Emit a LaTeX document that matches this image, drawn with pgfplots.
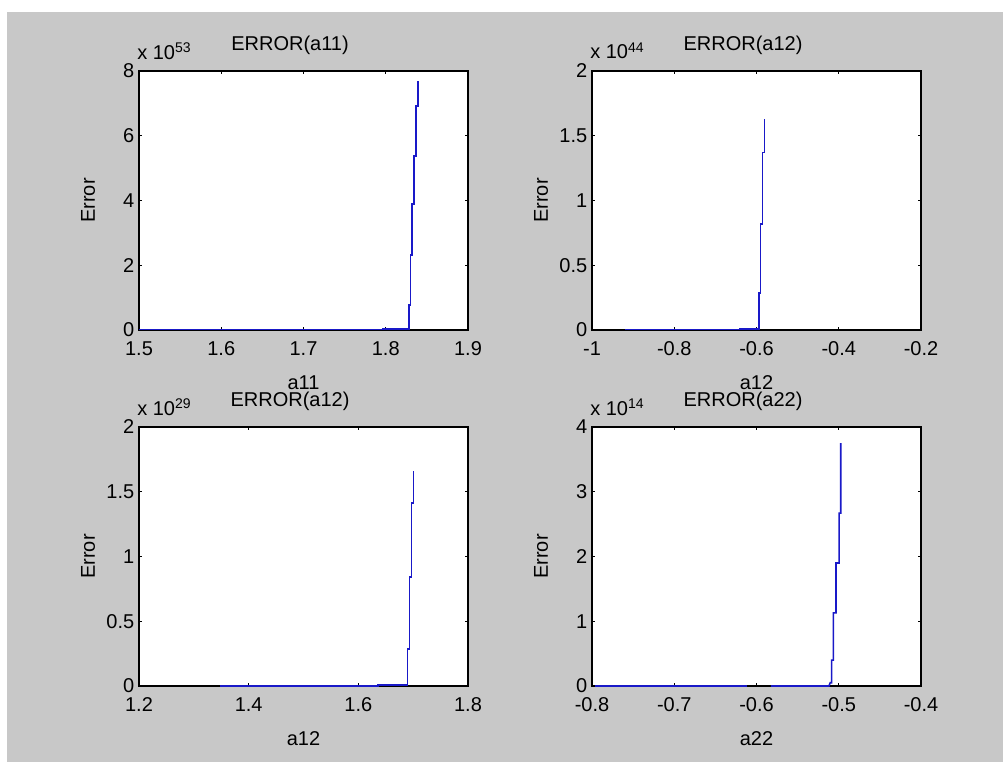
\documentclass[border=0pt]{standalone}
\usepackage{fontspec}
\setmainfont{Liberation Sans}
\usepackage{pgfplots}
\pgfplotsset{compat=1.18}
\definecolor{figgray}{RGB}{200,200,200}
\definecolor{mblue}{RGB}{25,25,200}
\newcommand\mfont{\fontsize{15}{18}\selectfont}

\pgfplotsset{
  mline/.style={mblue, line width=1.2pt, mark=none},
  mplot/.style={
    scale only axis, width=246.75pt, height=194.25pt,
    anchor=south west,
    axis background/.style={fill=white},
    axis line style={line width=0.8pt},
    tick style={black, line width=0.6pt},
    major tick length=2.5pt,
    tick align=inside, xtick pos=both, ytick pos=both,
    scaled x ticks=false,
    /pgf/number format/assume math mode=true,
    tick label style={font=\mfont},
    label style={font=\mfont},
    title style={font=\mfont, at={(axis description cs:0.459,1.069)},
      anchor=center, yshift=0pt},
    xlabel style={at={(axis description cs:0.5,-0.205)}, anchor=center},
    ylabel style={at={(axis description cs:-0.155,0.5)}, anchor=center},
    ylabel={Error},
    xticklabel style={yshift=-5pt},
    ytick scale label code/.code={x 10\textsuperscript{##1}},
    every y tick scale label/.style={at={(rel axis cs:0,1)}, anchor=base west,
      yshift=9pt, xshift=-1.5pt, inner sep=0pt, font=\mfont},
  }
}

\begin{document}
\begin{tikzpicture}
\fill[white] (0,0) rectangle (752.25pt,-571.5pt);
\fill[figgray] (5.25pt,-9pt) rectangle (752.25pt,-571.5pt);
\useasboundingbox (0,0) rectangle (752.25pt,-571.5pt);

% error versus a11
\begin{axis}[mplot, at={(104.25pt,-247.5pt)},
  xmin=1.5, xmax=1.9, ymin=0, ymax=8e53,
  xtick={1.5,1.6,1.7,1.8,1.9}, ytick={0,2e53,4e53,6e53,8e53},
  scaled y ticks=base 10:-53,
  title={ERROR(a11)}, xlabel={a11}]
\addplot[mline] coordinates {(1.5,0) (1.797,0) (1.797,0.03e53) (1.8283,0.03e53)
  (1.8283,0.77e53) (1.8303,0.77e53) (1.8303,2.31e53) (1.8322,2.31e53)
  (1.8322,3.89e53) (1.8343,3.89e53) (1.8343,5.37e53) (1.8367,5.37e53)
  (1.8367,6.91e53) (1.8395,6.91e53) (1.8395,7.69e53)};
\end{axis}

% error versus a12
\begin{axis}[mplot, at={(444pt,-247.5pt)},
  xmin=-1, xmax=-0.2, ymin=0, ymax=2e44,
  xtick={-1,-0.8,-0.6,-0.4,-0.2}, ytick={0,0.5e44,1e44,1.5e44,2e44},
  scaled y ticks=base 10:-44,
  title={ERROR(a12)}, xlabel={a12}]
\addplot[mline] coordinates {(-0.92,0) (-0.640,0) (-0.640,0.01e44) (-0.594,0.01e44)
  (-0.594,0.286e44) (-0.590,0.286e44) (-0.590,0.82e44) (-0.585,0.82e44)
  (-0.585,1.37e44) (-0.581,1.37e44) (-0.581,1.63e44)};
\end{axis}

% error versus a12, second run
\begin{axis}[mplot, at={(104.25pt,-514.5pt)},
  xmin=1.2, xmax=1.8, ymin=0, ymax=2e29,
  xtick={1.2,1.4,1.6,1.8}, ytick={0,0.5e29,1e29,1.5e29,2e29},
  scaled y ticks=base 10:-29,
  title={ERROR(a12)}, xlabel={a12}]
\addplot[mline] coordinates {(1.348,0) (1.636,0) (1.636,0.01e29) (1.6896,0.01e29)
  (1.6896,0.286e29) (1.6932,0.286e29) (1.6932,0.842e29) (1.6969,0.842e29)
  (1.6969,1.413e29) (1.7005,1.413e29) (1.7005,1.66e29)};
\end{axis}

% error versus a22
\begin{axis}[mplot, at={(444pt,-514.5pt)},
  xmin=-0.8, xmax=-0.4, ymin=0, ymax=4e14,
  xtick={-0.8,-0.7,-0.6,-0.5,-0.4}, ytick={0,1e14,2e14,3e14,4e14},
  scaled y ticks=base 10:-14,
  title={ERROR(a22)}, xlabel={a22}]
\addplot[mline] coordinates {(-0.796,0) (-0.6115,0)};
\addplot[mline] coordinates {(-0.5824,0) (-0.5119,0) (-0.5104,0.05e14) (-0.5086,0.05e14)
  (-0.5086,0.40e14) (-0.5066,0.40e14) (-0.5066,1.13e14) (-0.5033,1.13e14)
  (-0.5033,1.90e14) (-0.4996,1.90e14) (-0.4996,2.67e14) (-0.4976,2.67e14)
  (-0.4976,3.75e14)};
\end{axis}
\end{tikzpicture}
\end{document}
